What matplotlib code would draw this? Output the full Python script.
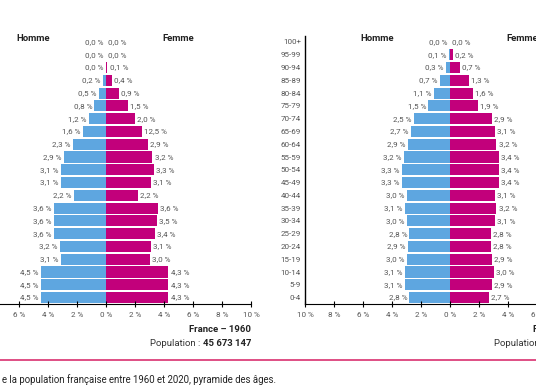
import numpy as np
import matplotlib.pyplot as plt
from matplotlib.lines import Line2D
from matplotlib.transforms import blended_transform_factory

plt.rcParams['font.family'] = ['Roboto', 'DejaVu Sans']

# tranches d'age, du haut vers le bas
ages = ['100+', '95-99', '90-94', '85-89', '80-84', '75-79', '70-74', '65-69',
        '60-64', '55-59', '50-54', '45-49', '40-44', '35-39', '30-34', '25-29',
        '20-24', '15-19', '10-14', '5-9', '0-4']

# France 1960 (% de la population)
homme_1960 = [0.0, 0.0, 0.0, 0.2, 0.5, 0.8, 1.2, 1.6, 2.3, 2.9, 3.1, 3.1, 2.2,
              3.6, 3.6, 3.6, 3.2, 3.1, 4.5, 4.5, 4.5]
femme_1960 = [0.0, 0.0, 0.1, 0.4, 0.9, 1.5, 2.0, 2.5, 2.9, 3.2, 3.3, 3.1, 2.2,
              3.6, 3.5, 3.4, 3.1, 3.0, 4.3, 4.3, 4.3]
# etiquette telle qu'imprimee sur l'original
femme_1960_etiq = {'65-69': '12,5 %'}

# France 2020
homme_2020 = [0.0, 0.1, 0.3, 0.7, 1.1, 1.5, 2.5, 2.7, 2.9, 3.2, 3.3, 3.3, 3.0,
              3.1, 3.0, 2.8, 2.9, 3.0, 3.1, 3.1, 2.8]
femme_2020 = [0.0, 0.2, 0.7, 1.3, 1.6, 1.9, 2.9, 3.1, 3.2, 3.4, 3.4, 3.4, 3.1,
              3.2, 3.1, 2.8, 2.8, 2.9, 3.0, 2.9, 2.7]

panneaux = [
    ('France \u2013 1960', '45 673 147', homme_1960, femme_1960, femme_1960_etiq),
    ('France \u2013 2020', '67 063 703', homme_2020, femme_2020, {}),
]

ticks = np.arange(-10, 10.1, 2)

BLEU = '#5ea6e0'
MAGENTA = '#c2007b'
GRIS = '#555555'

def fmt(v):
    return ('%.1f %%' % v).replace('.', ',')

fig = plt.figure(figsize=(5.36, 3.86), dpi=100)

# position des axes (le graphique original est recadre a gauche et a droite)
positions = [[-39 / 536, 82 / 386, 290 / 536, 268.4 / 386],
             [305 / 536, 82 / 386, 290 / 536, 268.4 / 386]]

for i, (pos, (titre, pop, hom, fem, etiq)) in enumerate(zip(positions, panneaux)):
    ax = fig.add_axes(pos)
    y = np.arange(len(ages))[::-1]
    ax.barh(y, -np.array(hom), height=0.87, color=BLEU)
    ax.barh(y, fem, height=0.87, color=MAGENTA)

    for yi, a, h, f in zip(y, ages, hom, fem):
        ax.text(-h - 0.15, yi, fmt(h), ha='right', va='center',
                fontsize=5.8, color=GRIS)
        ax.text(f + 0.15, yi, etiq.get(a, fmt(f)), ha='left', va='center',
                fontsize=5.8, color=GRIS)

    ax.text(-5, 20.3, 'Homme', ha='center', va='center', fontsize=6.8,
            fontweight='bold', color='#222222')
    ax.text(5, 20.3, 'Femme', ha='center', va='center', fontsize=6.8,
            fontweight='bold', color='#222222')

    ax.set_xlim(-10, 10)
    ax.set_ylim(-0.5, 20.5)
    ax.set_xticks(ticks)
    ax.set_yticks(y)
    if i == 0:
        # partie gauche hors cadre
        ax.set_xticklabels(['' if t < -7 else '%d %%' % abs(t) for t in ticks])
        ax.set_yticklabels([])
    else:
        ax.set_xticklabels(['%d %%' % abs(t) for t in ticks])
        ax.set_yticklabels(ages)
    ax.tick_params(axis='x', direction='inout', length=4, width=0.8,
                   labelsize=5.8, labelcolor=GRIS, pad=4)
    ax.tick_params(axis='y', length=0, labelsize=5.8, labelcolor=GRIS, pad=3)
    for s in ['top', 'right']:
        ax.spines[s].set_visible(False)
    ax.spines['left'].set_linewidth(1.0)
    ax.spines['bottom'].set_linewidth(0.8)

    tr = blended_transform_factory(ax.transData, fig.transFigure)
    ax.text(10, 1 - 330 / 386, titre, transform=tr, ha='right', va='center',
            fontsize=6.8, fontweight='bold', color='#222222')
    nb = ax.text(10, 1 - 343 / 386, pop, transform=tr, ha='right',
                 va='center', fontsize=6.8, fontweight='bold', color='#222222')
    ax.annotate('Population : ', xy=(0, 0.5), xycoords=nb, ha='right',
                va='center', fontsize=6.8, color='#333333')

# filet rose et legende
ly = 1 - 360 / 386
fig.add_artist(Line2D([0, 1], [ly, ly], transform=fig.transFigure,
                      color='#d93070', linewidth=1.2))
fig.text(0.003, 1 - 380 / 386, 'e la population fran\u00e7aise entre 1960 et 2020, pyramide des \u00e2ges.',
         ha='left', va='center', fontsize=6.9, color='#222222')

plt.savefig('out.png', dpi=100)
plt.close()
